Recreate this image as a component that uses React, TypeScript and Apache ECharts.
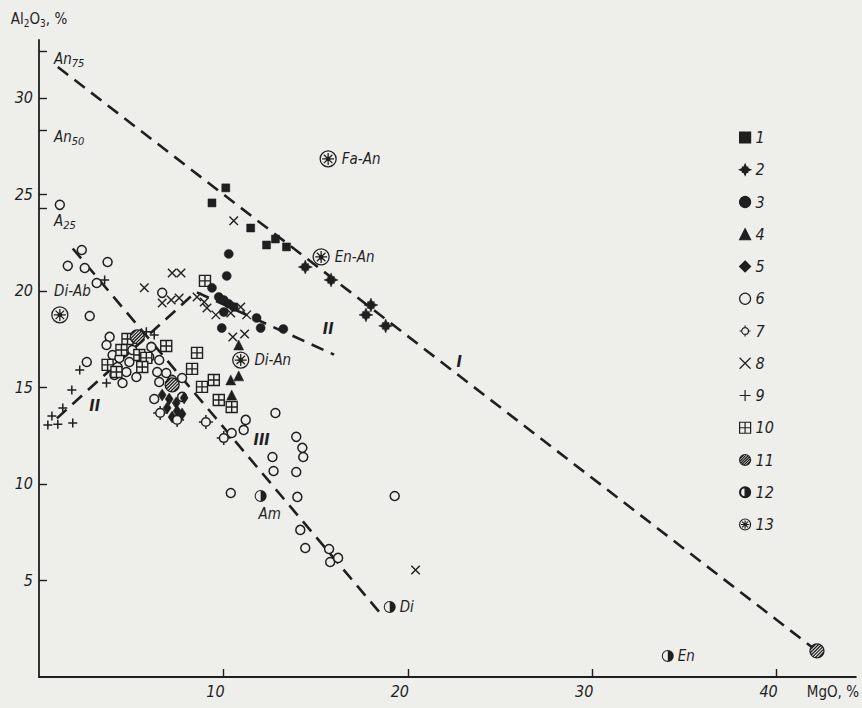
import React, { useEffect, useRef } from 'react';
import * as echarts from 'echarts';

const INK = '#1f1f1f';
const BG = '#eeeeeb';
const FONT = '"Liberation Sans Narrow", "DejaVu Sans Condensed", sans-serif';

// ---------- data (MgO %, Al2O3 %) ----------
const legendNames = ['1', '2', '3', '4', '5', '6', '7', '8', '9', '10', '11', '12', '13'];

const s1Squares = [[10.13, 25.34], [9.38, 24.56], [11.48, 23.26], [12.34, 22.38], [12.82, 22.69], [13.42, 22.28]];
const s2Stars = [[14.44, 21.24], [15.84, 20.57], [18.0, 19.27], [17.73, 18.76], [18.8, 18.19]];
const s3Dots = [[10.29, 21.92], [10.18, 20.78], [9.38, 20.16], [9.75, 19.69], [10.02, 19.53], [10.29, 19.33], [10.56, 19.17], [10.02, 18.91], [9.91, 18.08], [11.8, 18.6], [12.02, 18.08], [13.25, 18.03]];
const s4Triangles = [[10.83, 17.2], [10.4, 15.39], [10.83, 15.6], [10.45, 14.61]];
const s5Diamonds = [[6.68, 14.61], [7.06, 14.4], [7.44, 14.2], [7.87, 14.46], [6.95, 13.94], [7.49, 13.78], [7.22, 13.47], [7.76, 13.63]];
const s6Circles = [
  [1.13, 24.46], [2.32, 22.12], [1.56, 21.3], [2.48, 21.19], [3.72, 21.5], [3.13, 20.41], [6.68, 19.9], [2.75, 18.7],
  [2.59, 16.32], [3.83, 17.62], [3.66, 17.2], [3.99, 16.68], [4.36, 16.53], [4.26, 16.06], [4.9, 16.32], [4.74, 15.8],
  [5.28, 15.54], [4.53, 15.23], [4.09, 15.65], [5.98, 16.58], [6.09, 17.1], [6.52, 16.42], [6.41, 15.8], [6.9, 15.75],
  [7.76, 15.49], [6.52, 15.28], [6.25, 14.4], [7.22, 15.39], [7.76, 14.51], [11.21, 13.32], [11.1, 12.8], [12.82, 13.68],
  [10.4, 9.53], [12.66, 11.4], [12.72, 10.67], [13.95, 12.44], [14.28, 11.87], [14.33, 11.4], [13.95, 10.62], [14.01, 9.33],
  [14.17, 7.62], [14.44, 6.68], [15.73, 6.63], [15.79, 5.96], [16.22, 6.17], [19.29, 9.38], [5.06, 16.94], [10.45, 12.64],
];
const s7Spiked = [[6.57, 13.68], [7.49, 13.32], [9.05, 13.21], [10.02, 12.38]];
const s8Crosses = [[10.56, 23.63], [7.22, 20.93], [7.7, 20.93], [5.71, 20.16], [6.68, 19.38], [7.17, 19.53], [7.6, 19.64], [8.57, 19.69], [8.96, 19.43], [9.11, 19.12], [9.59, 18.76], [10.4, 18.86], [10.94, 19.17], [11.26, 18.76], [10.51, 17.62], [11.15, 17.77], [20.42, 5.54]];
const s9Plus = [[0.48, 13.06], [1.02, 13.1], [1.83, 13.16], [0.7, 13.52], [1.29, 13.94], [1.78, 14.87], [2.21, 15.91], [3.66, 15.23], [3.56, 20.57], [5.82, 17.88], [6.25, 17.72]];
const s10Grid = [[4.8, 17.51], [6.9, 17.15], [4.47, 16.94], [5.44, 16.68], [5.82, 16.53], [3.72, 16.17], [4.2, 15.8], [5.6, 16.06], [8.57, 16.79], [8.3, 15.96], [9.48, 15.39], [8.84, 15.03], [9.75, 14.35], [10.45, 13.99], [9.0, 20.52]];
const s11Hatched = [[5.33, 17.62], [7.22, 15.13], [42.19, 1.35]];
const s12Half = [[12.02, 9.38], [19.02, 3.63], [34.1, 1.09]];
const s12Names = ['Am', 'Di', 'En'];
const s13Wheel = [[15.68, 26.84], [15.3, 21.76], [10.94, 16.42], [1.13, 18.76]];
const s13Names = ['Fa-An', 'En-An', 'Di-An', ''];

// dashed trend lines
const lineI = [[1.02, 31.6], [42.19, 1.35]];
const lineII = [[0.97, 13.4], [8.51, 19.95], [16.0, 16.7]];
const lineIII = [[1.83, 22.2], [18.6, 3.2]];
const lineLabelText = ['I', 'II', 'II', 'III'];
const lineLabelPos = [[22.79, 16.32], [15.68, 18.08], [3.02, 14.09], [12.07, 12.28]];

// extra y-axis marks (plagioclase compositions, Di-Ab)
const sideTickValues = [24.3, 28.3, 32.4];
const sideLabelValues = [20, 23.6, 28.0, 32.0];
const sideLabelTexts = ['Di-Ab', 'A{s|25}', 'An{s|50}', 'An{s|75}'];

// ---------- symbol shapes ----------
function circ(cx: number, cy: number, r: number, sweep = 1) {
  return `M${cx} ${cy - r} A${r} ${r} 0 1 ${sweep} ${cx} ${cy + r} A${r} ${r} 0 1 ${sweep} ${cx} ${cy - r} Z `;
}
function starPath() {
  const pts: string[] = [];
  for (let k = 0; k < 16; k++) {
    const a = -Math.PI / 2 + (k * Math.PI) / 8;
    const r = k % 4 === 0 ? 10 : k % 2 === 0 ? 6.8 : 5.4;
    pts.push(`${(10 + r * Math.cos(a)).toFixed(2)} ${(10 + r * Math.sin(a)).toFixed(2)}`);
  }
  return 'path://M' + pts.join(' L') + ' Z';
}
function hatchPath() {
  let d = circ(10, 10, 10);
  for (const dd of [-11.5, -7, -2.3, 2.3, 7, 11.5]) {
    const h = Math.sqrt(100 - (dd * dd) / 2);
    const mx = 10 + dd / 2;
    const my = 10 + dd / 2;
    const u = h / Math.SQRT2;
    d += `M${(mx - u).toFixed(2)} ${(my + u).toFixed(2)} L${(mx + u).toFixed(2)} ${(my - u).toFixed(2)} `;
  }
  return 'path://' + d;
}
function wheelPath() {
  let d = circ(10, 10, 10);
  for (const a of [0, 45, 90, 135]) {
    const r = (a * Math.PI) / 180;
    const dx = 7.5 * Math.cos(r);
    const dy = 7.5 * Math.sin(r);
    d += `M${(10 - dx).toFixed(2)} ${(10 - dy).toFixed(2)} L${(10 + dx).toFixed(2)} ${(10 + dy).toFixed(2)} `;
  }
  d += circ(10, 10, 2.2);
  return 'path://' + d;
}
const halfPath = 'path://' + circ(10, 10, 10, 1) + circ(10, 10, 8.3, 0) + 'M10 1.7 A8.3 8.3 0 0 1 10 18.3 Z';
const spikedPath = 'path://M10 0 L10 3.8 M10 16.2 L10 20 M0 10 L3.8 10 M16.2 10 L20 10 ' + circ(10, 10, 6.2);
const gridPath = 'path://M0 0 L20 0 L20 20 L0 20 Z M10 0 L10 20 M0 10 L20 10';
const crossPath = 'path://M0 0 L20 20 M20 0 L0 20';
const plusPath = 'path://M10 0 L10 20 M0 10 L20 10';

const filled = { color: INK, borderColor: INK, borderWidth: 0.5, opacity: 1 };
const open = (w: number) => ({ color: BG, borderColor: INK, borderWidth: w, opacity: 1 });

const textBase = { color: INK, fontFamily: FONT, fontStyle: 'italic' as const, fontSize: 16 };
const subRich = { s: { color: INK, fontFamily: FONT, fontStyle: 'italic' as const, fontSize: 11, padding: [9, 0, 0, 0] } };

function scatter(name: string, data: number[][], symbol: string, size: any, itemStyle: any, z = 3) {
  return { name, type: 'scatter', data, symbol, symbolSize: size, itemStyle, z, silent: true };
}
function dashed(data: number[][]) {
  return { type: 'line', data, symbol: 'none', silent: true, z: 1, lineStyle: { color: INK, width: 2.6, type: [13, 8] } };
}

const option: any = {
  animation: false,
  backgroundColor: BG,
  grid: { left: 39, right: 1, top: 40, bottom: 31 },
  xAxis: {
    type: 'value', min: 0, max: 44.3, interval: 10,
    axisLine: { lineStyle: { color: INK, width: 1.8 } },
    axisTick: { inside: true, length: 8, lineStyle: { color: INK, width: 1.4 } },
    axisLabel: { ...textBase, showMinLabel: false, showMaxLabel: false, margin: 6, padding: [0, 16, 0, 0] },
    splitLine: { show: false },
    name: 'MgO, %', nameLocation: 'end', nameGap: -23,
    nameTextStyle: { color: INK, fontFamily: FONT, fontSize: 15, align: 'center', verticalAlign: 'top', padding: [7, 0, 0, 0] },
  },
  yAxis: [
    {
      type: 'value', min: 0, max: 33, interval: 5,
      axisLine: { lineStyle: { color: INK, width: 1.8 } },
      axisTick: { inside: true, length: 8, lineStyle: { color: INK, width: 1.4 } },
      axisLabel: { ...textBase, showMinLabel: false, showMaxLabel: false, margin: 6 },
      splitLine: { show: false },
      name: 'Al{n|2}O{n|3}, %', nameLocation: 'end', nameGap: 12,
      nameTextStyle: {
        color: INK, fontFamily: FONT, fontSize: 15,
        rich: { n: { color: INK, fontFamily: FONT, fontSize: 10, padding: [8, 0, 0, 0] } },
      },
    },
    {
      type: 'value', min: 0, max: 33, position: 'left',
      axisLine: { show: false },
      axisTick: { show: true, inside: true, length: 8, customValues: sideTickValues, lineStyle: { color: INK, width: 1.4 } },
      axisLabel: {
        ...textBase, fontSize: 15, inside: true, margin: 15, showMinLabel: true, showMaxLabel: true,
        customValues: sideLabelValues,
        formatter: (v: number) => {
          const i = sideLabelValues.findIndex((s) => Math.abs(s - v) < 1e-6);
          return i >= 0 ? sideLabelTexts[i] : '';
        },
        rich: subRich,
      },
      splitLine: { show: false },
    },
  ],
  legend: {
    data: legendNames,
    orient: 'vertical', left: 734, top: 124.5,
    itemWidth: 11, itemHeight: 11, itemGap: 16.25,
    selectedMode: false,
    itemStyle: { borderWidth: 1.2, opacity: 1 },
    textStyle: { ...textBase, fontSize: 16 },
  },
  series: [
    dashed(lineI),
    dashed(lineII),
    dashed(lineIII),
    scatter('6', s6Circles, 'circle', 9, open(1.5)),
    scatter('10', s10Grid, gridPath, 11, open(1.4)),
    scatter('1', s1Squares, 'rect', 8, filled),
    scatter('2', s2Stars, starPath(), 14, filled),
    scatter('3', s3Dots, 'circle', 9, filled),
    scatter('4', s4Triangles, 'triangle', 10, filled),
    scatter('5', s5Diamonds, 'diamond', [8, 12], filled),
    scatter('7', s7Spiked, spikedPath, 14, open(1.5)),
    scatter('8', s8Crosses, crossPath, 8.5, { color: BG, borderColor: INK, borderWidth: 1.4, opacity: 1 }),
    scatter('9', s9Plus, plusPath, 9, { color: BG, borderColor: INK, borderWidth: 1.5, opacity: 1 }),
    scatter('11', s11Hatched, hatchPath(), 14, open(1.3)),
    {
      ...scatter('12', [], halfPath, 12, { color: INK, borderColor: INK, borderWidth: 0, opacity: 1 }),
      data: s12Half.map((p, i) => ({
        value: p, name: s12Names[i],
        label: i === 0 ? { position: 'bottom', distance: 5, offset: [9, 0] } : { position: 'right', distance: 4 },
      })),
      label: { show: true, formatter: '{b}', ...textBase, fontSize: 15 },
    },
    {
      ...scatter('13', [], wheelPath(), 16, open(1.3)),
      data: s13Wheel.map((p, i) => ({ value: p, name: s13Names[i] })),
      label: { show: true, position: 'right', distance: 5, formatter: '{b}', ...textBase, fontSize: 15 },
    },
    {
      type: 'scatter', silent: true, z: 4, symbol: 'circle', symbolSize: 1,
      itemStyle: { color: 'rgba(0,0,0,0)', opacity: 1 },
      data: lineLabelPos.map((p, i) => ({ value: p, name: lineLabelText[i] })),
      label: { show: true, position: 'inside', formatter: '{b}', ...textBase, fontWeight: 'bold', fontSize: 16 },
    },
  ],
};

export default function App() {
  const ref = useRef<HTMLDivElement>(null);
  useEffect(() => {
    const chart = echarts.init(ref.current!, null, { renderer: 'svg' });
    chart.setOption(option);
    return () => chart.dispose();
  }, []);
  return <div ref={ref} style={{ position: 'absolute', left: 0, top: 0, width: 862, height: 708 }} />;
}
